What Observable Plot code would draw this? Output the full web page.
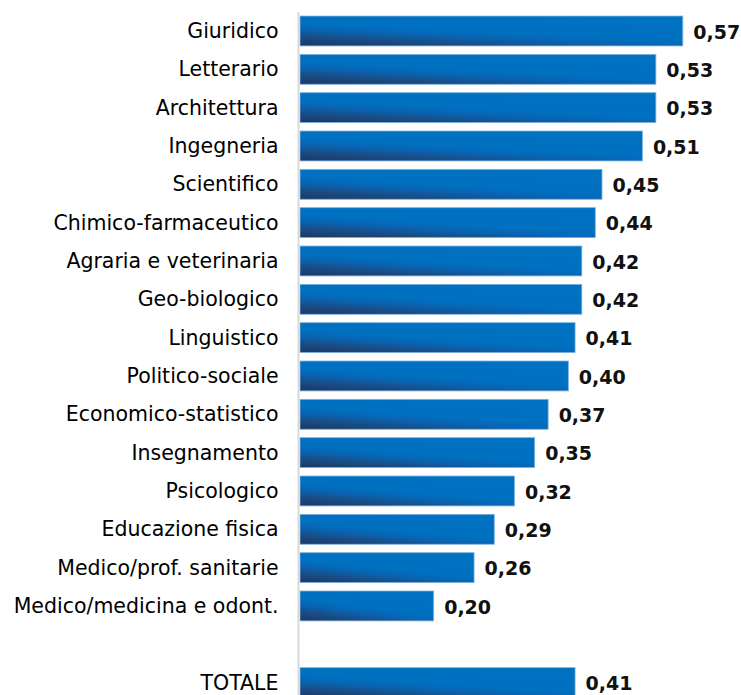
<!DOCTYPE html>
<html>
<head>
<meta charset="utf-8">
<script src="https://cdn.jsdelivr.net/npm/d3@7"></script>
<script src="https://cdn.jsdelivr.net/npm/@observablehq/plot@0.6"></script>
<style>
  html, body { margin: 0; padding: 0; background: #fff; }
  #chart { width: 741px; height: 695px; overflow: hidden; }
</style>
</head>
<body>
<div id="chart"></div>
<script>
const categories = [
  "Giuridico", "Letterario", "Architettura", "Ingegneria", "Scientifico",
  "Chimico-farmaceutico", "Agraria e veterinaria", "Geo-biologico", "Linguistico",
  "Politico-sociale", "Economico-statistico", "Insegnamento", "Psicologico",
  "Educazione fisica", "Medico/prof. sanitarie", "Medico/medicina e odont."
];
const values = [0.57, 0.53, 0.53, 0.51, 0.45, 0.44, 0.42, 0.42, 0.41, 0.40, 0.37, 0.35, 0.32, 0.29, 0.26, 0.20];
const totalLabel = "TOTALE";
const totalValue = 0.41;
const spacer = "\u00a0";

const data = categories.map((c, i) => ({cat: c, v: values[i]}));
data.push({cat: totalLabel, v: totalValue});
const domain = [...categories, spacer, totalLabel];

const fmt = v => d3.format(".2f")(v).replace(".", ",");
const font = "'DejaVu Sans', Verdana, sans-serif";

const plot = Plot.plot({
  width: 741,
  height: 695,
  marginLeft: 299,
  marginRight: 38,
  marginTop: 12,
  marginBottom: 0,
  style: {fontFamily: font, background: "#fff", color: "#000"},
  x: {domain: [0, 0.6], axis: null},
  y: {domain, range: [7.6, 706], padding: 0.22, round: false, label: null},
  marks: [
    Plot.axisY({tickSize: 0, tickPadding: 21, fontSize: 20.5, label: null, tickFormat: d => d === spacer ? "" : d}),
    Plot.barX(data, {x: "v", y: "cat", fill: "url(#barGrad)", stroke: "#7fb0de", strokeWidth: 0.8, insetLeft: 1}),
    Plot.text(data, {x: "v", y: "cat", text: d => fmt(d.v), dx: 10, dy: 1, textAnchor: "start", fontSize: 19, fontWeight: "bold", fill: "#111"}),
    Plot.ruleX([0], {stroke: "#d9d9d9", strokeWidth: 2, dx: -1})
  ]
});

const ns = "http://www.w3.org/2000/svg";
const defs = document.createElementNS(ns, "defs");
const grad = document.createElementNS(ns, "linearGradient");
grad.setAttribute("id", "barGrad");
grad.setAttribute("x1", "0"); grad.setAttribute("y1", "1");
grad.setAttribute("x2", "0.6"); grad.setAttribute("y2", "0");
[[0, "#1a3868"], [0.2, "#1b4a80"], [0.4, "#0a63b0"], [0.56, "#0070C0"], [1, "#0072c2"]].forEach(([o, c]) => {
  const s = document.createElementNS(ns, "stop");
  s.setAttribute("offset", o);
  s.setAttribute("stop-color", c);
  grad.appendChild(s);
});
defs.appendChild(grad);
plot.insertBefore(defs, plot.firstChild);
document.getElementById("chart").appendChild(plot);
</script>
</body>
</html>
